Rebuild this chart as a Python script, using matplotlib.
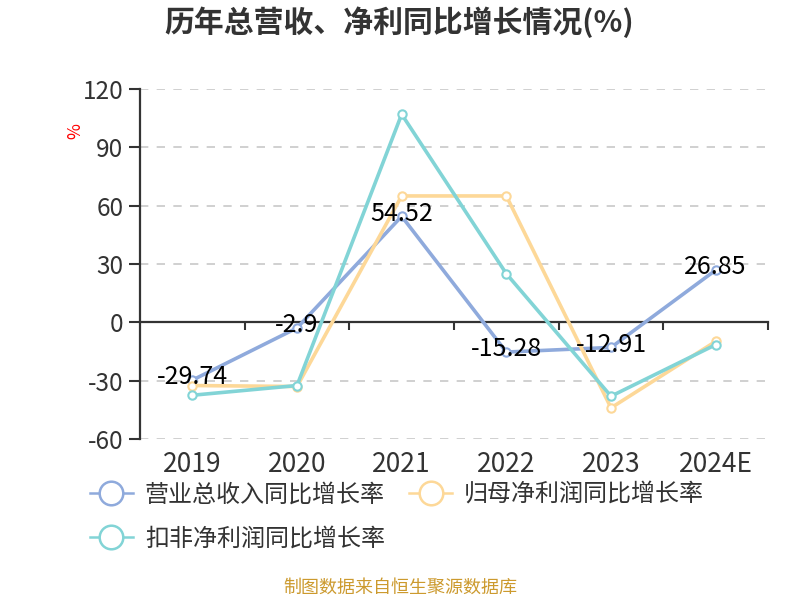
import matplotlib
matplotlib.use('Agg')
import matplotlib.pyplot as plt
from matplotlib.lines import Line2D
import matplotlib.transforms as mtransforms

plt.rcParams['font.family'] = ['Noto Sans CJK SC', 'DejaVu Sans']

years = ['2019', '2020', '2021', '2022', '2023', '2024E']
revenue = [-29.74, -2.9, 54.52, -15.28, -12.91, 26.85]
parent_np = [-32.5, -33.0, 65.0, 65.0, -44.0, -9.8]
deducted_np = [-37.5, -32.5, 107.0, 25.0, -38.0, -11.5]
series_names = ['营业总收入同比增长率', '归母净利润同比增长率', '扣非净利润同比增长率']
yticks = [-60, -30, 0, 30, 60, 90, 120]

colors = ['#8faadc', '#fdd898', '#82d4d6']
axis_color = '#333333'

fig = plt.figure(figsize=(8, 6), dpi=100)
ax = fig.add_axes([0.175, 1 - 439 / 600, 0.785, 350 / 600])
x = list(range(len(years)))

ax.set_xlim(-0.5, len(years) - 0.5)
ax.set_ylim(yticks[0], yticks[-1])
ax.set_yticks(yticks)
ax.set_yticklabels([str(t) for t in yticks])
ax.tick_params(axis='y', length=8, width=1.5, color=axis_color, labelsize=17.5,
               labelcolor=axis_color, pad=4)
ax.yaxis.grid(True, linestyle=(0, (5, 5)), color='#c8c8c8', linewidth=1.2)
ax.set_axisbelow(True)

for s in ['top', 'right']:
    ax.spines[s].set_visible(False)
ax.spines['left'].set_color(axis_color)
ax.spines['left'].set_linewidth(1.6)
ax.spines['bottom'].set_position(('data', 0))
ax.spines['bottom'].set_color(axis_color)
ax.spines['bottom'].set_linewidth(1.6)
ax.set_xticks([i + 0.5 for i in x])
ax.set_xticklabels([''] * len(x))
ax.tick_params(axis='x', length=6, width=1.5, color=axis_color, direction='out')

trans = mtransforms.blended_transform_factory(ax.transData, ax.transAxes)
for i, lab in zip(x, years):
    ax.text(i, -0.074, lab, transform=trans, ha='center', va='center',
            fontsize=19, color=axis_color)

data = [revenue, parent_np, deducted_np]
handles = []
for vals, c, name in zip(data, colors, series_names):
    ax.plot(x, vals, color=c, linewidth=2.6, marker='o', markersize=6,
            markerfacecolor='white', markeredgecolor=c, markeredgewidth=1.5,
            clip_on=False, zorder=3)
    handles.append(Line2D([0], [0], color=c, linewidth=1.8, marker='o',
                          markersize=17, markerfacecolor='white',
                          markeredgecolor=c, markeredgewidth=1.8))

for i, v in zip(x, revenue):
    ax.annotate(f'{v:g}', (i, v), xytext=(0, 2), textcoords='offset points',
                ha='center', va='center', fontsize=18, color='black', zorder=5)

fig.text(0.499, 1 - 22 / 600, '历年总营收、净利同比增长情况(%)', ha='center', va='center',
         fontsize=21.5, fontweight='bold', color=axis_color)
fig.text(75 / 800, 1 - 131 / 600, '%', color='red', rotation=90, fontsize=12.5,
         ha='center', va='center')

leg = fig.legend([handles[0], handles[2], handles[1]],
                 [series_names[0], series_names[2], series_names[1]],
                 ncol=2, loc='upper left', bbox_to_anchor=(0.1, 1 - 472 / 600),
                 frameon=False, fontsize=17.3, handlelength=1.8, handletextpad=0.5,
                 columnspacing=1.0, labelspacing=0.75, borderaxespad=0)
for t in leg.get_texts():
    t.set_color(axis_color)

fig.text(0.5, 1 - 588 / 600, '制图数据来自恒生聚源数据库', ha='center', va='center',
         fontsize=13, color='#cc9a2e')

fig.savefig('out.png', dpi=100)
